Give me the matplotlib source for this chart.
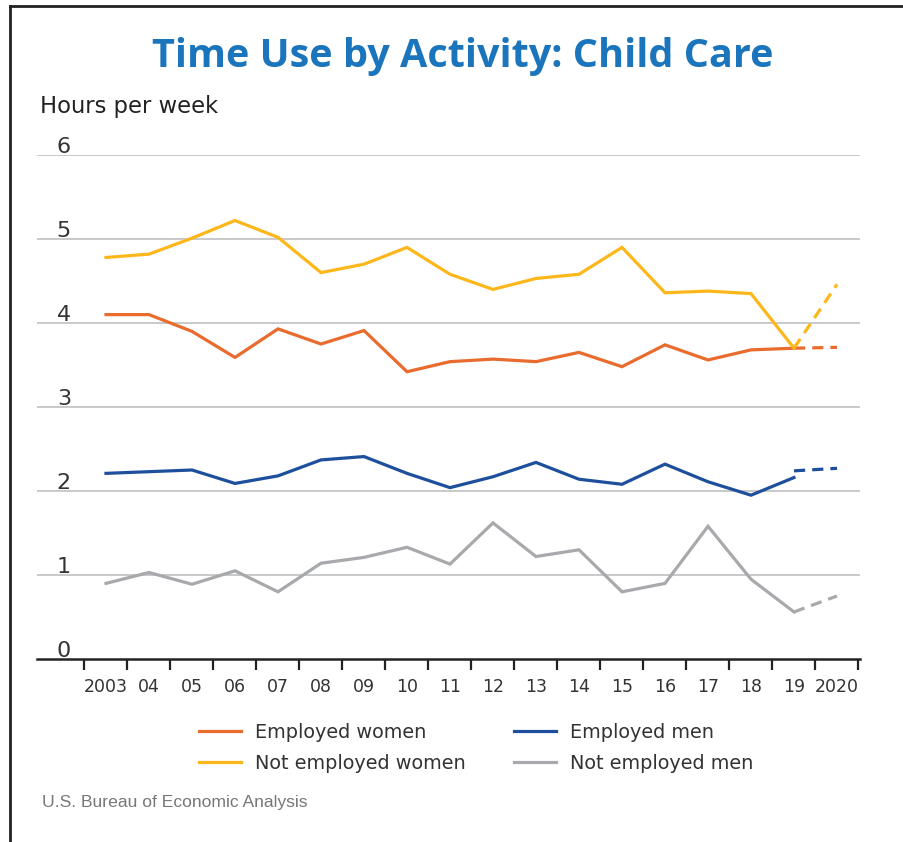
import numpy as np
import matplotlib.pyplot as plt
from matplotlib.lines import Line2D

years = ['2003', '04', '05', '06', '07', '08', '09', '10', '11',
         '12', '13', '14', '15', '16', '17', '18', '19', '2020']

# 2003-2019 solid, 2019-2020 dashed
employed_women = [4.10, 4.10, 3.90, 3.59, 3.93, 3.75, 3.91, 3.42, 3.54,
                  3.57, 3.54, 3.65, 3.48, 3.74, 3.56, 3.68, 3.70]
employed_women_2020 = [3.70, 3.71]
not_employed_women = [4.78, 4.82, 5.01, 5.22, 5.02, 4.60, 4.70, 4.90, 4.58,
                      4.40, 4.53, 4.58, 4.90, 4.36, 4.38, 4.35, 3.70]
not_employed_women_2020 = [3.70, 4.46]
employed_men = [2.21, 2.23, 2.25, 2.09, 2.18, 2.37, 2.41, 2.21, 2.04,
                2.17, 2.34, 2.14, 2.08, 2.32, 2.11, 1.95, 2.16]
employed_men_2020 = [2.24, 2.27]
not_employed_men = [0.90, 1.03, 0.89, 1.05, 0.80, 1.14, 1.21, 1.33, 1.13,
                    1.62, 1.22, 1.30, 0.80, 0.90, 1.58, 0.95, 0.56]
not_employed_men_2020 = [0.56, 0.75]

c_ew = '#E96B2D'
c_new = '#FDB71A'
c_em = '#1D4F9C'
c_nem = '#A7A9AC'

plt.rcParams['font.family'] = ['DejaVu Sans']

fig = plt.figure(figsize=(9.04, 8.42), dpi=100)
ax = fig.add_axes([37/904, 1-659/842, (860-37)/904, (659-155)/842])

x = np.arange(len(years))
xs = x[:17]
xd = x[16:]
lw = 2.3
series = [(employed_women, employed_women_2020, c_ew),
          (not_employed_women, not_employed_women_2020, c_new),
          (employed_men, employed_men_2020, c_em),
          (not_employed_men, not_employed_men_2020, c_nem)]
for solid, dashed, col in series:
    ax.plot(xs, solid, color=col, lw=lw, solid_joinstyle='miter', zorder=3)
    ax.plot(xd, dashed, color=col, lw=lw, ls=(0, (3.5, 2.2)), zorder=3)

ax.set_ylim(0, 6)
ax.set_xlim((37-106)/43, (860-106)/43)
for v in range(1, 7):
    ax.axhline(v, color='#C8C9CA', lw=1.4, zorder=1)
for v in range(0, 7):
    ax.text(0.024, v - 0.02, str(v), transform=ax.get_yaxis_transform(),
            ha='left', va='bottom', fontsize=16, color='#333333')

for s in ['top', 'right', 'left']:
    ax.spines[s].set_visible(False)
ax.spines['bottom'].set_linewidth(1.8)
ax.spines['bottom'].set_color('#222222')

ax.set_yticks([])
ax.set_xticks(np.arange(len(years) + 1) - 0.5)
ax.set_xticklabels([])
ax.tick_params(axis='x', which='major', length=8, width=1.6, color='#222222')
ax.set_xticks(x, minor=True)
ax.set_xticklabels(years, minor=True, fontsize=12.5, color='#333333')
ax.tick_params(axis='x', which='minor', length=0, pad=14)

fig.text(463/904, 1-57/842, 'Time Use by Activity: Child Care', ha='center', va='center',
         fontsize=28.5, fontweight='bold', color='#1B75BC', family='Open Sans')
fig.text(40/904, 1-107/842, 'Hours per week', ha='left', va='center',
         fontsize=16.3, color='#222222')
fig.text(42/904, 1-802/842, 'U.S. Bureau of Economic Analysis', ha='left', va='center',
         fontsize=12.6, color='#777777', family='Liberation Sans')

handles = [Line2D([], [], color=c, lw=lw) for c in [c_ew, c_new, c_em, c_nem]]
labels = ['Employed women', 'Not employed women', 'Employed men', 'Not employed men']
fig.legend(handles, labels, ncol=2, loc='upper left', bbox_to_anchor=(199/904, 1-723/842),
           frameon=False, fontsize=13.9, handlelength=2.15, handletextpad=0.75,
           columnspacing=2.5, labelspacing=0.6, borderpad=0, borderaxespad=0,
           labelcolor='#333333')

# outer frame
fig.add_artist(Line2D([10/904, 10/904], [0, 1-6/842], color='#222222', lw=2))
fig.add_artist(Line2D([10/904, 1], [1-6/842, 1-6/842], color='#222222', lw=2))

fig.savefig('out.png', dpi=100)
